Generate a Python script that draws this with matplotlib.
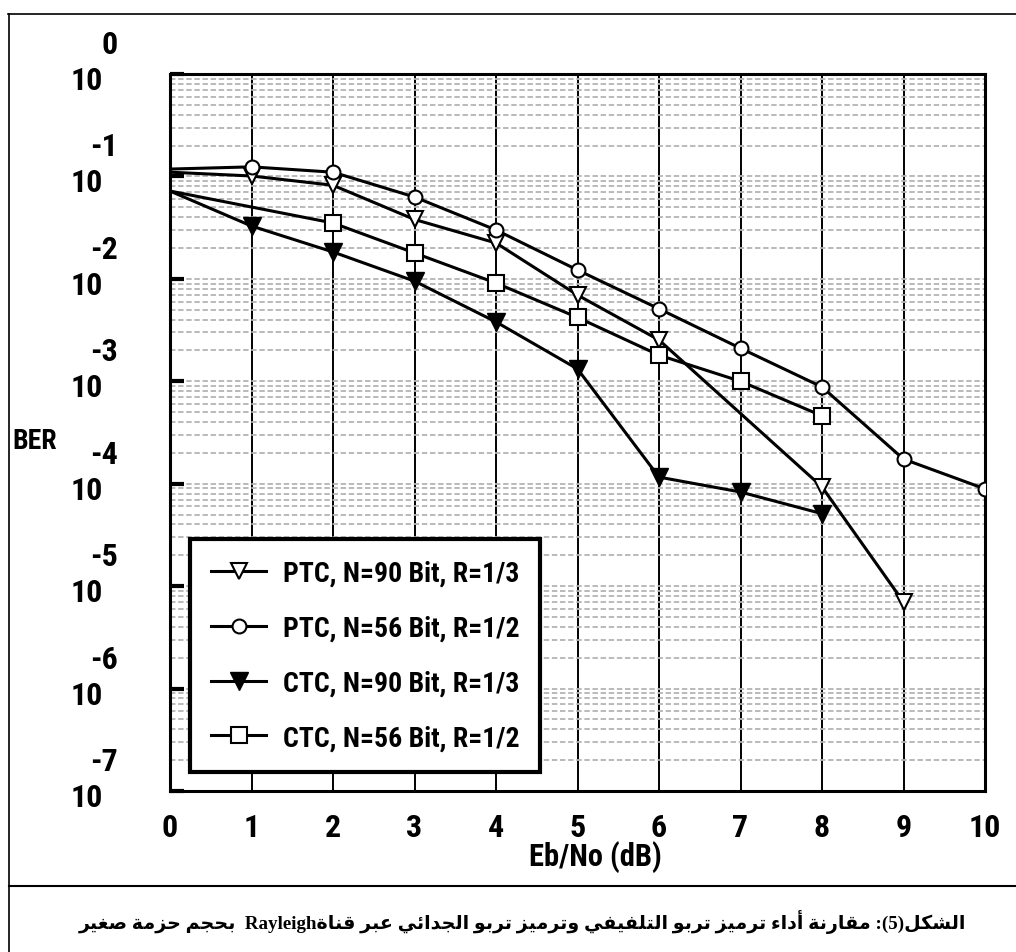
import matplotlib
matplotlib.use("Agg")
import matplotlib.pyplot as plt
from matplotlib import font_manager as fm
from matplotlib.lines import Line2D
from matplotlib.ticker import LogLocator, NullFormatter, FixedLocator

# --- data (BER vs Eb/No in dB) ---
ptc90_x = [0, 1, 2, 3, 4, 5, 6, 8, 9]
ptc90_ber = [0.110, 0.101, 0.082, 0.038, 0.0224, 6.95e-3, 2.53e-3, 9.3e-5, 7.0e-6]

ptc56_x = [0, 1, 2, 3, 4, 5, 6, 7, 8, 9, 10]
ptc56_ber = [0.118, 0.124, 0.110, 0.063, 0.030, 0.0122, 5.1e-3, 2.1e-3, 8.8e-4, 1.74e-4, 8.9e-5]

ctc90_x = [0, 1, 2, 3, 4, 5, 6, 7, 8]
ctc90_ber = [0.072, 0.0328, 0.0183, 9.5e-3, 3.8e-3, 1.32e-3, 1.16e-4, 8.3e-5, 5.1e-5]

ctc56_x = [0, 2, 3, 4, 5, 6, 7, 8]
ctc56_ber = [0.072, 0.0351, 0.0179, 9.1e-3, 4.2e-3, 1.8e-3, 1.0e-3, 4.6e-4]

labels = ["PTC, N=90 Bit, R=1/3", "PTC, N=56 Bit, R=1/2",
          "CTC, N=90 Bit, R=1/3", "CTC, N=56 Bit, R=1/2"]
x_ticks = list(range(0, 11))
decades = [0, -1, -2, -3, -4, -5, -6, -7]

caption = "الشكل(5): مقارنة أداء ترميز تربو التلفيفي وترميز تربو الجدائي عبر قناةRayleigh  بحجم حزمة صغير"


# pick a narrow font for the scanned-looking labels
def pick_narrow():
    names = {f.name for f in fm.fontManager.ttflist}
    for cand in ["Liberation Sans Narrow", "Roboto Condensed", "Open Sans Condensed"]:
        if cand in names:
            return dict(family=cand)
    return dict(family="DejaVu Sans", stretch="condensed")


NARROW = pick_narrow()

# --- minimal arabic shaping (matplotlib draws glyphs one by one) ---
AR_FORMS = {
    'ء': ('\uFE80', None, None, None),
    'أ': ('\uFE83', '\uFE84', None, None),
    'ا': ('\uFE8D', '\uFE8E', None, None),
    'ئ': ('\uFE89', '\uFE8A', '\uFE8B', '\uFE8C'),
    'ب': ('\uFE8F', '\uFE90', '\uFE91', '\uFE92'),
    'ة': ('\uFE93', '\uFE94', None, None),
    'ت': ('\uFE95', '\uFE96', '\uFE97', '\uFE98'),
    'ج': ('\uFE9D', '\uFE9E', '\uFE9F', '\uFEA0'),
    'ح': ('\uFEA1', '\uFEA2', '\uFEA3', '\uFEA4'),
    'د': ('\uFEA9', '\uFEAA', None, None),
    'ر': ('\uFEAD', '\uFEAE', None, None),
    'ز': ('\uFEAF', '\uFEB0', None, None),
    'ش': ('\uFEB5', '\uFEB6', '\uFEB7', '\uFEB8'),
    'ص': ('\uFEB9', '\uFEBA', '\uFEBB', '\uFEBC'),
    'ع': ('\uFEC9', '\uFECA', '\uFECB', '\uFECC'),
    'غ': ('\uFECD', '\uFECE', '\uFECF', '\uFED0'),
    'ف': ('\uFED1', '\uFED2', '\uFED3', '\uFED4'),
    'ق': ('\uFED5', '\uFED6', '\uFED7', '\uFED8'),
    'ك': ('\uFED9', '\uFEDA', '\uFEDB', '\uFEDC'),
    'ل': ('\uFEDD', '\uFEDE', '\uFEDF', '\uFEE0'),
    'م': ('\uFEE1', '\uFEE2', '\uFEE3', '\uFEE4'),
    'ن': ('\uFEE5', '\uFEE6', '\uFEE7', '\uFEE8'),
    'و': ('\uFEED', '\uFEEE', None, None),
    'ي': ('\uFEF1', '\uFEF2', '\uFEF3', '\uFEF4'),
}
MIRROR = {'(': ')', ')': '('}


def shape(run):
    out = []
    for i, ch in enumerate(run):
        forms = AR_FORMS.get(ch)
        if forms is None:
            out.append(ch)
            continue
        prv = run[i - 1] if i > 0 else ''
        nxt = run[i + 1] if i + 1 < len(run) else ''
        join_prev = (prv in AR_FORMS and AR_FORMS[prv][2] is not None
                     and forms[1] is not None)
        join_next = (forms[2] is not None and nxt in AR_FORMS
                     and AR_FORMS[nxt][1] is not None)
        if join_prev and join_next:
            out.append(forms[3])
        elif join_prev:
            out.append(forms[1])
        elif join_next:
            out.append(forms[2])
        else:
            out.append(forms[0])
    return ''.join(out)


def visual_rtl(text):
    # split into latin runs and everything else, then lay out right-to-left
    runs = []
    for ch in text:
        latin = ch.isascii() and ch.isalpha()
        if runs and runs[-1][0] == latin:
            runs[-1][1] += ch
        else:
            runs.append([latin, ch])
    pieces = []
    for latin, s in reversed(runs):
        if latin:
            pieces.append(s)
        else:
            pieces.append(''.join(MIRROR.get(c, c) for c in reversed(shape(s))))
    return ''.join(pieces)


W, H = 1016, 953
fig = plt.figure(figsize=(W / 100, H / 100), dpi=100)
ax = fig.add_axes([170 / W, 1 - 792 / H, 815 / W, 717 / H])

ax.plot(ptc90_x, ptc90_ber, color='black', lw=2.2, marker='v', ms=11,
        mfc='white', mec='black', mew=1.5, markevery=list(range(1, len(ptc90_x))),
        label=labels[0], zorder=4)
ax.plot(ptc56_x, ptc56_ber, color='black', lw=2.2, marker='o', ms=10,
        mfc='white', mec='black', mew=1.5, markevery=list(range(1, len(ptc56_x))),
        label=labels[1], zorder=4)
ax.plot(ctc90_x, ctc90_ber, color='black', lw=2.2, marker='v', ms=13,
        mfc='black', mec='black', markevery=list(range(1, len(ctc90_x))),
        label=labels[2], zorder=4)
ax.plot(ctc56_x, ctc56_ber, color='black', lw=2.2, marker='s', ms=11,
        mfc='white', mec='black', mew=1.5, markevery=list(range(1, len(ctc56_x))),
        label=labels[3], zorder=4)

ax.set_yscale('log')
ax.set_ylim(1e-7, 1e0)
ax.set_xlim(0, 10)

ax.yaxis.set_major_locator(FixedLocator([10.0 ** d for d in decades]))
ax.yaxis.set_minor_locator(LogLocator(base=10, subs=range(2, 10), numticks=30))
ax.yaxis.set_major_formatter(NullFormatter())
ax.yaxis.set_minor_formatter(NullFormatter())
ax.tick_params(axis='y', which='major', direction='in', length=10, width=3, left=True, right=False)
ax.tick_params(axis='y', which='minor', length=0)

ax.set_xticks(x_ticks)
ax.set_xticklabels([str(t) for t in x_ticks], fontsize=23, fontweight='bold', **NARROW)
ax.tick_params(axis='x', which='major', length=0, pad=15)

ax.grid(axis='x', which='major', color='black', lw=1.4)
ax.grid(axis='y', which='both', color='#b4b4b4', lw=1.3, linestyle=(0, (3, 1.5)))
ax.set_axisbelow(True)
for sp in ax.spines.values():
    sp.set_linewidth(2.2)

# y tick labels drawn as "10" with the exponent above, like the original
for d in decades:
    ax.annotate("10", xy=(0, 10.0 ** d), xycoords=('axes fraction', 'data'),
                xytext=(-67, -6), textcoords='offset pixels', ha='right', va='center',
                fontsize=23, fontweight='bold', **NARROW)
    ax.annotate(str(d), xy=(0, 10.0 ** d), xycoords=('axes fraction', 'data'),
                xytext=(-52, 30), textcoords='offset pixels', ha='right', va='center',
                fontsize=23, fontweight='bold', **NARROW)

ax.set_xlabel("Eb/No (dB)", fontsize=22, fontweight='bold', **NARROW)
ax.xaxis.set_label_coords((595 - 170) / 815, (792 - 841) / 717)
ax.set_ylabel("BER", fontsize=20, fontweight='bold', rotation=0, ha='center', va='center', **NARROW)
ax.yaxis.set_label_coords((35 - 170) / 815, (792 - 442) / 717)

leg = ax.legend(loc='lower left', bbox_to_anchor=(0.0245, 0.0265), borderaxespad=0,
                fancybox=False, framealpha=1, edgecolor='black',
                prop=dict(size=20, weight='bold', **NARROW),
                handlelength=2.0, handletextpad=0.6, labelspacing=1.0,
                borderpad=0.75, markerscale=1.0)
leg.get_frame().set_linewidth(3)

# page frame lines of the scanned figure
fig.add_artist(Line2D([8 / W, 1], [1 - 15 / H, 1 - 15 / H], color='black', lw=1.2))
fig.add_artist(Line2D([9 / W, 9 / W], [0, 1 - 15 / H], color='black', lw=1.2))
fig.add_artist(Line2D([9 / W, 1], [1 - 887 / H, 1 - 887 / H], color='black', lw=1.5))

fig.text(966 / W, 1 - 922 / H, visual_rtl(caption), ha='right', va='center',
         fontsize=13.7, fontweight='bold', family=['Liberation Serif', 'DejaVu Sans'])

fig.savefig("out.png", dpi=100)
